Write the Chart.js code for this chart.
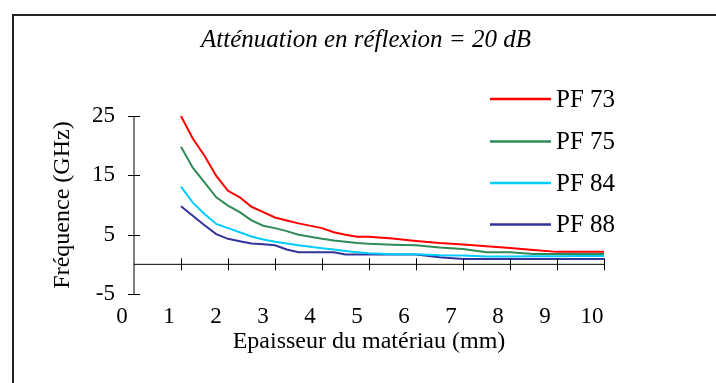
<!DOCTYPE html>
<html>
<head>
<meta charset="utf-8">
<script src="https://cdn.jsdelivr.net/npm/chart.js@4/dist/chart.umd.min.js"></script>
<style>
  html, body { margin: 0; padding: 0; background: #fff; }
  #wrap { width: 716px; height: 383px; }
</style>
</head>
<body>
<div id="wrap"><canvas id="chart" width="716" height="383"></canvas></div>
<script>
// epaisseur (mm)
const thickness = [1, 1.25, 1.5, 1.75, 2, 2.25, 2.5, 2.75, 3, 3.25, 3.5, 4, 4.25, 4.5, 4.75, 5, 5.5, 6, 6.5, 7, 7.5, 8, 8.5, 9, 9.5, 10];
// frequence (GHz) per material
const pf73 = [25, 21.2, 18.3, 14.9, 12.4, 11.3, 9.7, 8.8, 7.9, 7.4, 6.9, 6.1, 5.4, 5.0, 4.65, 4.65, 4.35, 3.95, 3.6, 3.35, 3.05, 2.75, 2.4, 2.1, 2.1, 2.1];
const pf75 = [19.8, 16.3, 13.8, 11.3, 9.9, 8.8, 7.4, 6.5, 6.1, 5.6, 5.0, 4.3, 4.0, 3.8, 3.6, 3.45, 3.3, 3.2, 2.85, 2.6, 2.05, 2.05, 1.75, 1.75, 1.75, 1.75];
const pf84 = [13.1, 10.4, 8.5, 6.8, 6.1, 5.4, 4.7, 4.2, 3.8, 3.5, 3.2, 2.7, 2.5, 2.25, 2.05, 1.85, 1.7, 1.7, 1.55, 1.5, 1.3, 1.3, 1.35, 1.35, 1.4, 1.4];
const pf88 = [9.8, 8.2, 6.6, 5.1, 4.3, 3.9, 3.5, 3.4, 3.2, 2.5, 2.05, 2.05, 2.05, 1.65, 1.65, 1.65, 1.65, 1.65, 1.2, 0.9, 0.9, 0.9, 0.9, 0.9, 0.9, 0.9];
const seriesNames = ['PF 73', 'PF 75', 'PF 84', 'PF 88'];
const seriesColors = ['#ff0000', '#2e8b57', '#00ccff', '#333399'];
const xTicks = [0, 1, 2, 3, 4, 5, 6, 7, 8, 9, 10];
const yTicks = [-5, 5, 15, 25];

const serif = 'Liberation Serif, Times New Roman, serif';

function toPoints(ys) {
  return thickness.map((x, i) => ({ x: x, y: ys[i] }));
}

const allSeries = [pf73, pf75, pf84, pf88];
const datasets = allSeries.map((ys, i) => ({
  label: seriesNames[i],
  data: toPoints(ys),
  borderColor: seriesColors[i],
  backgroundColor: seriesColors[i],
  borderWidth: 2,
  pointRadius: 0,
  tension: 0,
  fill: false
}));

// frame, axes at x=0 / y=0 with crossing ticks, legend
const axesPlugin = {
  id: 'axesPlugin',
  beforeDraw(chart) {
    const ctx = chart.ctx;
    ctx.save();
    ctx.strokeStyle = '#222';
    ctx.lineWidth = 2;
    ctx.beginPath();
    ctx.moveTo(13, 383);
    ctx.lineTo(13, 15);
    ctx.lineTo(716, 15);
    ctx.stroke();
    ctx.restore();
  },
  afterDatasetsDraw(chart) {
    const ctx = chart.ctx;
    const xs = chart.scales.x, ys = chart.scales.y;
    const x0 = xs.getPixelForValue(0);
    const y0 = ys.getPixelForValue(0);
    ctx.save();
    ctx.strokeStyle = '#000';
    ctx.lineWidth = 1;
    ctx.beginPath();
    ctx.moveTo(x0, ys.getPixelForValue(-5));
    ctx.lineTo(x0, ys.getPixelForValue(25));
    ctx.moveTo(x0, y0);
    ctx.lineTo(xs.getPixelForValue(10), y0);
    yTicks.forEach(v => {
      const py = Math.round(ys.getPixelForValue(v)) + 0.5;
      ctx.moveTo(x0 - 6, py);
      ctx.lineTo(x0 + 6, py);
    });
    xTicks.slice(1).forEach(v => {
      const px = Math.round(xs.getPixelForValue(v)) + 0.5;
      ctx.moveTo(px, y0 - 6);
      ctx.lineTo(px, y0 + 6);
    });
    ctx.stroke();
    ctx.restore();
  },
  afterDraw(chart) {
    const ctx = chart.ctx;
    const rows = [99, 141.5, 183, 224.5];
    ctx.save();
    ctx.font = '25px ' + serif;
    ctx.textBaseline = 'middle';
    ctx.fillStyle = '#000';
    chart.data.datasets.forEach((ds, i) => {
      ctx.strokeStyle = ds.borderColor;
      ctx.lineWidth = 2.5;
      ctx.beginPath();
      ctx.moveTo(490, rows[i]);
      ctx.lineTo(551, rows[i]);
      ctx.stroke();
      ctx.fillText(ds.label, 556, rows[i] + 1);
    });
    ctx.restore();
  }
};

new Chart('chart', {
  type: 'line',
  data: { datasets: datasets },
  plugins: [axesPlugin],
  options: {
    responsive: false,
    animation: false,
    layout: { padding: { left: 16, right: 0, top: 0, bottom: 0 } },
    plugins: {
      legend: { display: false },
      tooltip: { enabled: false },
      title: {
        display: true,
        text: 'Atténuation en réflexion = 20 dB',
        color: '#000',
        font: { family: serif, size: 25, style: 'italic', weight: 'normal' },
        padding: { top: 25, bottom: 61 }
      }
    },
    scales: {
      x: {
        type: 'linear',
        min: 0,
        max: 10,
        afterFit(scale) { scale.height = 89; },
        afterBuildTicks(scale) { scale.ticks = xTicks.map(v => ({ value: v })); },
        border: { display: false },
        grid: { display: false, drawTicks: false },
        ticks: {
          color: '#000',
          font: { family: serif, size: 23 },
          labelOffset: -12,
          padding: 9,
          maxRotation: 0,
          autoSkip: false
        },
        title: {
          display: true,
          text: 'Epaisseur du matériau (mm)',
          color: '#000',
          font: { family: serif, size: 24 },
          padding: { top: 0, bottom: 27 }
        }
      },
      y: {
        type: 'linear',
        min: -5,
        max: 25,
        afterFit(scale) { scale.width = 118; },
        afterBuildTicks(scale) { scale.ticks = yTicks.map(v => ({ value: v })); },
        border: { display: false },
        grid: { display: false, drawTicks: false },
        ticks: {
          color: '#000',
          font: { family: serif, size: 23 },
          padding: 19
        },
        title: {
          display: true,
          text: 'Fréquence (GHz)',
          color: '#000',
          font: { family: serif, size: 24 },
          padding: { top: 32, bottom: 0 }
        }
      },
      // empty right margin reserved for the legend
      yRight: {
        type: 'linear',
        position: 'right',
        min: -5,
        max: 25,
        afterFit(scale) { scale.width = 112; },
        border: { display: false },
        grid: { display: false, drawTicks: false },
        ticks: { display: false }
      }
    }
  }
});
</script>
</body>
</html>
